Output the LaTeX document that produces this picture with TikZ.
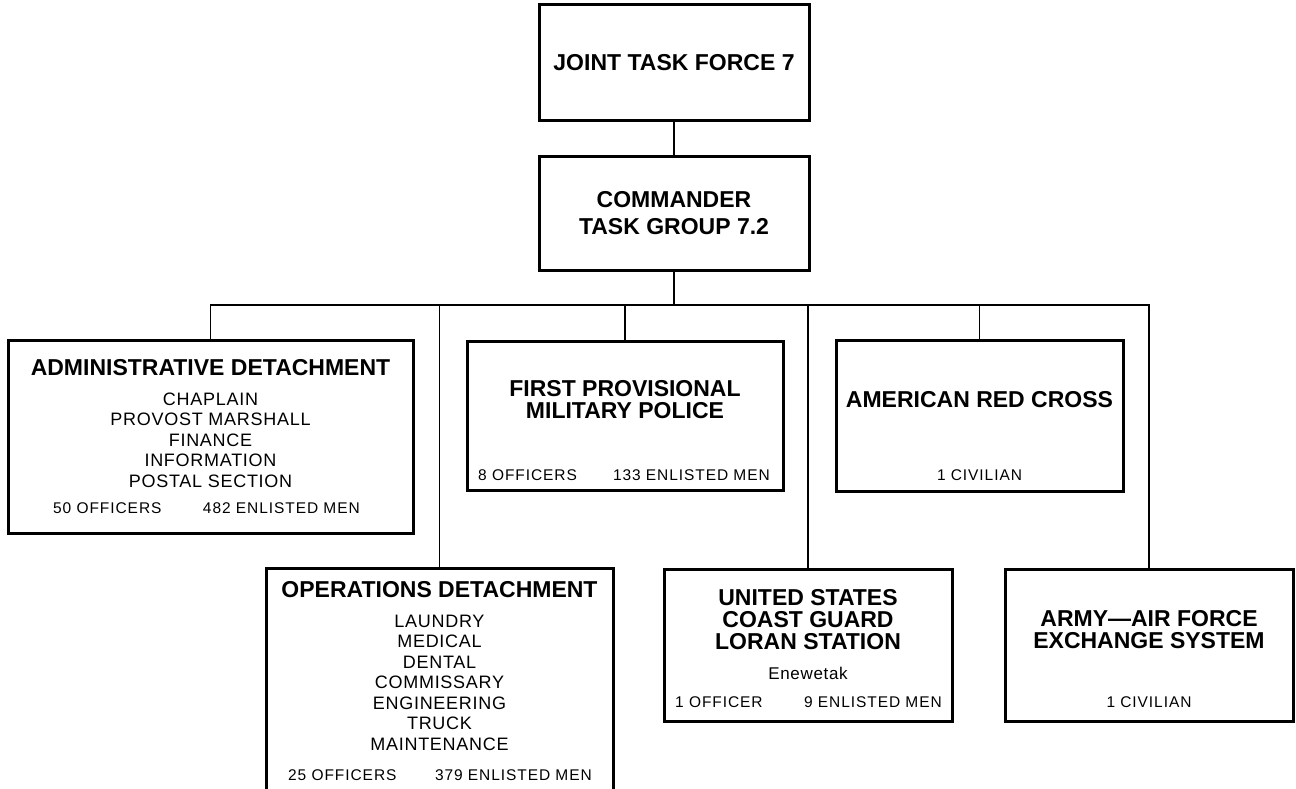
\documentclass[tikz,border=0pt]{standalone}
\usepackage{fontspec}
\setmainfont{Liberation Sans}
\newfontfamily\listfont[LetterSpace=4]{Liberation Sans}
\newfontfamily\countfont[LetterSpace=6]{Liberation Sans}
\usetikzlibrary{calc,positioning}

\begin{document}
\begin{tikzpicture}
	[   x=1pt,y=-1pt,
		ubox/.style 2 args={draw=black,line width=3pt,minimum width=#1,minimum height=#2,inner sep=0pt},
		htext/.style={font=\fontsize{23}{#1}\selectfont\bfseries,align=center,inner sep=0pt},
		htext/.default=22,
		ltext/.style={font=\listfont\fontsize{18}{20.5}\selectfont,align=center,inner sep=0pt},
		ntext/.style={font=\countfont\fontsize{15.5}{18}\selectfont,inner sep=0pt},
	]
	\tikzset{link/.style={draw,line width=1.8pt}}
	\useasboundingbox (0,0) rectangle (1296,789);
	
	\node[ubox={270pt}{116pt},htext] (jtf) at (674,63) {JOINT TASK FORCE 7};
	\node[ubox={270pt}{113pt},htext=27] (ctg) at (674,213.5) {COMMANDER\\TASK GROUP 7.2};
	
	\node[ubox={405pt}{193pt}] (admin) at (210.5,436.5) {};
	\node[htext] (admin-t) at (210.5,368) {ADMINISTRATIVE DETACHMENT};
	\node[ltext] (admin-l) at (210.5,440) {CHAPLAIN\\PROVOST MARSHALL\\FINANCE\\INFORMATION\\POSTAL SECTION};
	\node[ntext,anchor=west] (admin-o) at (53,508) {50 OFFICERS};
	\node[ntext,anchor=east] (admin-e) at (360,508) {482 ENLISTED MEN};
	
	\node[ubox={347pt}{222pt}] (ops) at (439.5,679) {};
	\node[htext] (ops-t) at (439.5,590) {OPERATIONS DETACHMENT};
	\node[ltext] (ops-l) at (439.5,682.5) {LAUNDRY\\MEDICAL\\DENTAL\\COMMISSARY\\ENGINEERING\\TRUCK\\MAINTENANCE};
	\node[ntext,anchor=west] (ops-o) at (288,775) {25 OFFICERS};
	\node[ntext,anchor=east] (ops-e) at (592,775) {379 ENLISTED MEN};
	
	\node[ubox={316pt}{149pt}] (mp) at (625,415.5) {};
	\node[htext] (mp-t) at (625,400) {FIRST PROVISIONAL\\MILITARY POLICE};
	\node[ntext,anchor=west] (mp-o) at (478,475) {8 OFFICERS};
	\node[ntext,anchor=east] (mp-e) at (770,475) {133 ENLISTED MEN};
	
	\node[ubox={288pt}{152pt}] (cg) at (808,645) {};
	\node[htext] (cg-t) at (808,620) {UNITED STATES\\COAST GUARD\\LORAN STATION};
	\node[ltext,font=\listfont\fontsize{17}{18}\selectfont] (cg-p) at (808,673) {Enewetak};
	\node[ntext,anchor=west] (cg-o) at (675,702) {1 OFFICER};
	\node[ntext,anchor=east] (cg-e) at (942,702) {9 ENLISTED MEN};
	
	\node[ubox={287pt}{151pt}] (redcross) at (979.5,415.5) {};
	\node[htext] (redcross-t) at (979.5,400) {AMERICAN RED CROSS};
	\node[ntext] (redcross-c) at (979.5,475) {1 CIVILIAN};
	
	\node[ubox={288pt}{152pt}] (army) at (1149,645) {};
	\node[htext] (army-t) at (1149,629.5) {ARMY---AIR FORCE\\EXCHANGE SYSTEM};
	\node[ntext] (army-c) at (1149,702) {1 CIVILIAN};
	
	\coordinate (bus) at (674,305);
	\path[link] (jtf) -- (ctg);
	\path[link] (ctg) -- (bus);
	\path[link] (admin.north) |- (bus) -| (army.north);
	\foreach \b in {ops,mp,cg,redcross}
	{
		\path[link] (\b.north) -- (\b.north |- bus);
	}
\end{tikzpicture}
\end{document}
